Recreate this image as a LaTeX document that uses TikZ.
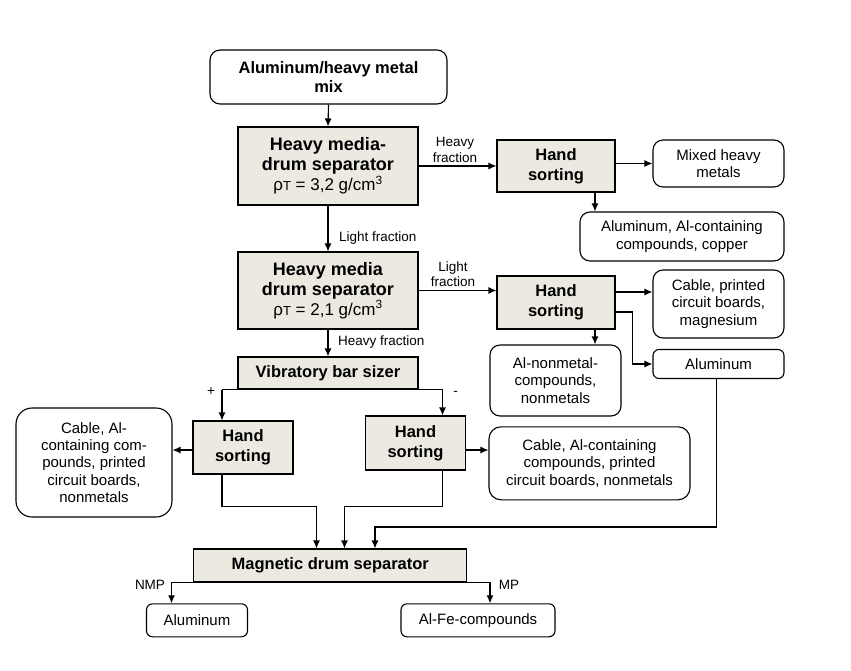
\documentclass[tikz,border=0pt]{standalone}
\usepackage{fontspec}
\setmainfont{Liberation Sans}
\usetikzlibrary{arrows.meta}
\definecolor{beige}{RGB}{236,233,224}
\begin{document}
\begin{tikzpicture}[x=1pt,y=-1pt,
 proc/.style={draw, fill=beige, line width=1.1pt, inner sep=0pt, align=center, font=\fontsize{16.5}{20}\selectfont\bfseries},
 sep/.style={proc, minimum width=180, font=\fontsize{18}{20}\selectfont\bfseries},
 outb/.style={draw, rounded corners=10pt, line width=1.1pt, inner sep=0pt, align=center, font=\fontsize{15}{17.3}\selectfont},
 lab/.style={font=\fontsize{13.5}{15.5}\selectfont, inner sep=0pt, align=center},
 arr/.style={line width=1.1pt, -{Latex[length=8pt,width=7pt]}},
 ln/.style={line width=1.1pt}]
\useasboundingbox (0,0) rectangle (851,670);
\newcommand{\rhoT}[1]{{\fontsize{17}{20}\selectfont\mdseries ρ{\fontsize{13}{13}\selectfont T} = #1 g/cm\textsuperscript{3}}}
% nodes
\node[outb, font=\fontsize{16.5}{19}\selectfont\bfseries, minimum width=237, minimum height=54] (mix) at (328.5,77) {Aluminum/heavy metal\\mix};
\node[sep, minimum height=78] (s1) at (328,166) {Heavy media-\\drum separator\\\rhoT{3,2}};
\node[proc, minimum width=118, minimum height=52] (h1) at (556,166) {Hand\\sorting};
\node[outb, minimum width=131, minimum height=47] (mhm) at (718.5,163.5) {Mixed heavy\\metals};
\node[outb, minimum width=204, minimum height=49] (alc) at (682,236.5) {Aluminum, Al-containing\\compounds, copper};
\node[sep, minimum height=77] (s2) at (328,290.5) {Heavy media\\drum separator\\\rhoT{2,1}};
\node[proc, minimum width=118, minimum height=53] (h2) at (556,302.5) {Hand\\sorting};
\node[outb, minimum width=131, minimum height=68] (cpm) at (718.5,304) {Cable, printed\\circuit boards,\\magnesium};
\node[outb, rounded corners=6pt, minimum width=131, minimum height=29] (alu1) at (718.5,364) {Aluminum};
\node[outb, minimum width=131, minimum height=71] (anm) at (555.5,380.5) {Al-nonmetal-\\compounds,\\nonmetals};
\node[proc, minimum width=180, minimum height=32] (vbs) at (328,373) {Vibratory bar sizer};
\node[proc, minimum width=100, minimum height=53] (h3) at (243,447.5) {Hand\\sorting};
\node[proc, minimum width=100, minimum height=54] (h4) at (415.5,443) {Hand\\sorting};
\node[outb, rounded corners=16pt, minimum width=156, minimum height=109] (lout) at (94,462.5) {Cable, Al-\\containing com-\\pounds, printed\\circuit boards,\\nonmetals};
\node[outb, rounded corners=12pt, minimum width=201, minimum height=73] (rout) at (589.5,463.3) {Cable, Al-containing\\compounds, printed\\circuit boards, nonmetals};
\node[proc, minimum width=273, minimum height=33] (mag) at (330.3,565.5) {Magnetic drum separator};
\node[outb, rounded corners=6pt, minimum width=101, minimum height=33] (alb) at (197,620.3) {Aluminum};
\node[outb, rounded corners=6pt, minimum width=154, minimum height=33] (afe) at (478,620.3) {Al-Fe-compounds};
% labels
\node[lab] (lhf1) at (455,150) {Heavy\\fraction};
\node[lab, anchor=west] (llf1) at (339,238) {Light fraction};
\node[lab] (llf2) at (453,274) {Light\\fraction};
\node[lab, anchor=west] (lhf2) at (338,342) {Heavy fraction};
\node[lab] (lplus) at (211,392) {+};
\node[lab] (lminus) at (455.5,393) {-};
\node[lab] (lnmp) at (150,585) {NMP};
\node[lab] (lmp) at (509,585) {MP};
% helper coordinates
\coordinate (y292) at (0,292);
\coordinate (y312) at (0,312);
\coordinate (y450) at (0,450);
\coordinate (x595) at (595,0);
\coordinate (j3) at (316.5,506.5);
\coordinate (j4) at (344.5,506.5);
\coordinate (ja) at (375,527);
\coordinate (xa) at (716.5,0);
\coordinate (x171) at (171.5,0);
\coordinate (x490) at (490,0);
\coordinate (x222) at (222,0);
\coordinate (x442) at (442.5,0);
% connectors
\draw[arr] (mix.south) -- (s1.north);
\draw[arr] (s1.east) -- (h1.west);
\draw[arr] (h1.east |- mhm.west) -- (mhm.west);
\draw[arr] (x595 |- h1.south) -- (x595 |- alc.north);
\draw[arr] (s1.south) -- (s2.north);
\draw[arr] (s2.east) -- (h2.west |- s2.east);
\draw[arr] (h2.east |- y292) -- (cpm.west |- y292);
\draw[arr] (h2.east |- y312) -- ++(17,0) |- (alu1.west);
\draw[arr] (x595 |- h2.south) -- (x595 |- anm.north);
\draw[arr] (s2.south) -- (vbs.north);
\draw[ln] (x222 |- vbs.south) -- (x442 |- vbs.south);
\draw[arr] (x222 |- vbs.south) -- (x222 |- h3.north);
\draw[arr] (x442 |- vbs.south) -- (x442 |- h4.north);
\draw[arr] (h3.west |- y450) -- (lout.east |- y450);
\draw[arr] (h4.east |- y450) -- (rout.west |- y450);
\draw[arr] (x222 |- h3.south) |- (j3) -- (j3 |- mag.north);
\draw[arr] (x442 |- h4.south) |- (j4) -- (j4 |- mag.north);
\draw[arr] (xa |- alu1.south) |- (ja) -- (ja |- mag.north);
\draw[arr] (mag.south west) -| (x171 |- alb.north);
\draw[arr] (mag.south east) -| (x490 |- afe.north);
\end{tikzpicture}
\end{document}
